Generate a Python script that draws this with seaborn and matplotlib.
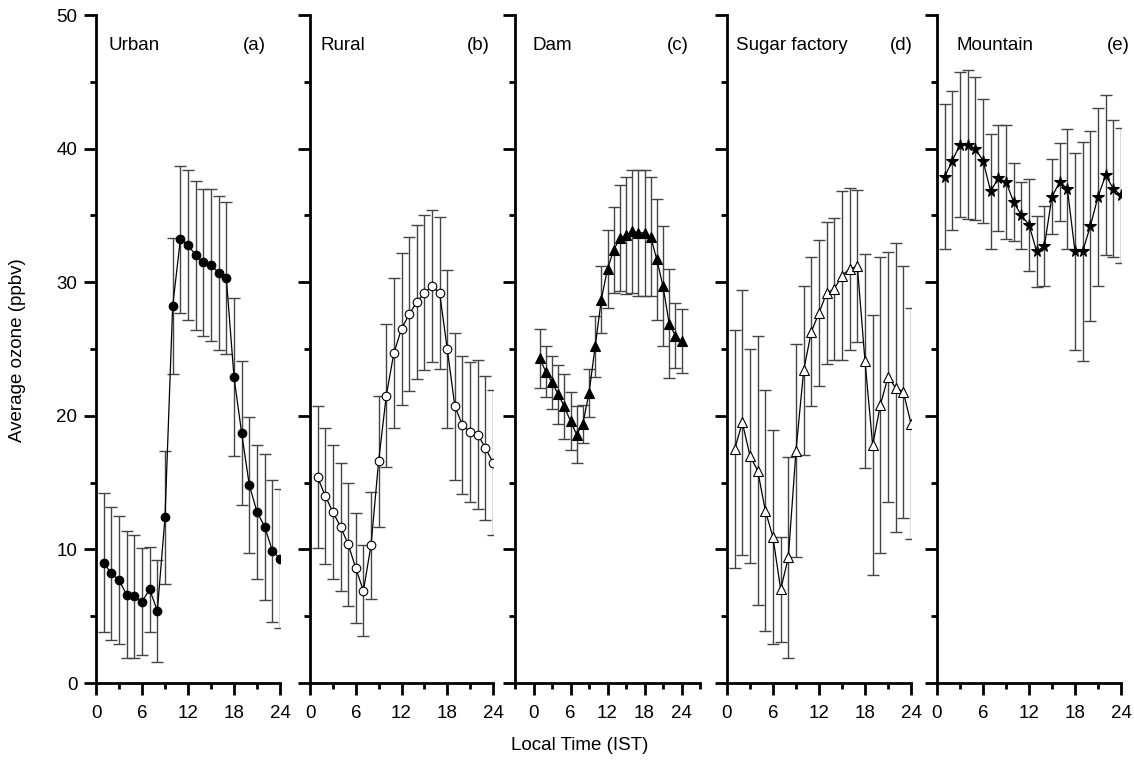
import numpy as np
import pandas as pd
import matplotlib
matplotlib.use("Agg")
import matplotlib.pyplot as plt
from matplotlib.ticker import MultipleLocator, FixedLocator
import seaborn as sns

sns.set_theme(style="ticks")
plt.rcParams['font.family'] = ['Liberation Sans', 'DejaVu Sans']

hours = list(range(1, 25))

site_names = ["Urban", "Rural", "Dam", "Sugar factory", "Mountain"]
panel_tags = ["(a)", "(b)", "(c)", "(d)", "(e)"]

urban_mean = [9.0, 8.2, 7.7, 6.6, 6.5, 6.1, 7.0, 5.4, 12.4, 28.2, 33.2, 32.8,
              32.0, 31.5, 31.3, 30.7, 30.3, 22.9, 18.7, 14.8, 12.8, 11.7, 9.9, 9.3]
urban_sd = [5.2, 5.0, 4.8, 4.75, 4.6, 4.0, 3.2, 3.8, 5.0, 5.1, 5.5, 5.6,
            5.6, 5.5, 5.7, 5.75, 5.7, 5.9, 5.4, 5.1, 5.05, 5.45, 5.3, 5.2]

rural_mean = [15.4, 14.0, 12.8, 11.7, 10.4, 8.6, 6.9, 10.3, 16.6, 21.5, 24.7, 26.5,
              27.6, 28.5, 29.2, 29.7, 29.2, 25.0, 20.7, 19.3, 18.8, 18.6, 17.6, 16.5]
rural_sd = [5.3, 5.1, 5.0, 4.8, 4.6, 4.1, 3.4, 4.0, 4.9, 5.35, 5.65, 5.7,
            5.75, 5.75, 5.8, 5.7, 5.7, 5.9, 5.5, 5.15, 5.25, 5.55, 5.4, 5.4]

dam_mean = [24.3, 23.3, 22.5, 21.6, 20.7, 19.6, 18.6, 19.4, 21.7, 25.2, 28.7, 31.0,
            32.4, 33.3, 33.5, 33.8, 33.7, 33.7, 33.4, 31.7, 29.7, 26.9, 26.0, 25.6]
dam_sd = [2.2, 1.9, 2.0, 2.2, 2.4, 2.15, 2.1, 1.4, 1.8, 2.3, 2.5, 2.9,
          3.2, 3.95, 4.35, 4.6, 4.7, 4.7, 4.45, 4.5, 4.5, 4.1, 2.45, 2.4]

sugar_mean = [17.5, 19.5, 17.0, 15.9, 12.9, 10.9, 7.0, 9.4, 17.4, 23.4, 26.3, 27.7,
              29.2, 29.5, 30.5, 31.0, 31.2, 24.1, 17.8, 20.8, 22.9, 22.1, 21.8, 19.4]
sugar_sd = [8.9, 9.9, 8.0, 10.05, 9.0, 8.0, 3.95, 7.5, 8.0, 6.3, 5.55, 5.45,
            5.3, 5.3, 6.3, 6.05, 5.7, 8.0, 9.75, 11.05, 9.35, 10.8, 9.45, 8.65]

mountain_mean = [37.9, 39.1, 40.3, 40.3, 40.0, 39.1, 36.8, 37.8, 37.5, 36.0, 35.0, 34.3,
                 32.3, 32.7, 36.4, 37.5, 37.0, 32.3, 32.3, 34.2, 36.4, 38.0, 37.0, 36.5]
mountain_sd = [5.45, 5.2, 5.45, 5.55, 5.35, 4.65, 4.3, 4.0, 4.25, 2.95, 2.5, 3.45,
               2.65, 3.0, 2.8, 2.95, 4.5, 7.35, 8.2, 7.1, 6.65, 6.0, 5.15, 5.05]

means = [urban_mean, rural_mean, dam_mean, sugar_mean, mountain_mean]
sds = [urban_sd, rural_sd, dam_sd, sugar_sd, mountain_sd]

x_major = [0, 6, 12, 18, 24]
y_major = [0, 10, 20, 30, 40, 50]

# styles
markers = ["o", "o", "^", "^", "*"]
faces = ["black", "white", "black", "white", "black"]
msizes = [6.2, 6.2, 6.8, 6.8, 8.5]

W, H = 1134, 763
fig = plt.figure(figsize=(W / 100, H / 100), dpi=100)

lefts = [96, 310, 515, 727, 937]
widths = [184, 183, 185, 184, 184]
top_px, bot_px = 15, 683
xlims = [(0, 24), (0, 24), (-3, 27), (0, 24), (0, 24)]
name_x = [12, 11, 17, 9, 20]      # px offset of site label from left spine
tag_x = [170, 180, 174, 186, 193]  # px offset of right edge of tag

for i in range(5):
    ax = fig.add_axes([lefts[i] / W, 1 - bot_px / H, widths[i] / W, (bot_px - top_px) / H])
    df = pd.DataFrame({"hour": hours, "ozone": means[i], "sd": sds[i]})
    ax.errorbar(df["hour"], df["ozone"], yerr=df["sd"], fmt="none",
                ecolor="#444444", elinewidth=1.0, capsize=4.5, capthick=1.0, zorder=2)
    sns.lineplot(data=df, x="hour", y="ozone", ax=ax, color="black", linewidth=0.9,
                 marker=markers[i], markersize=msizes[i], markerfacecolor=faces[i],
                 markeredgecolor="black", markeredgewidth=0.8, zorder=3)
    ax.set_xlim(*xlims[i])
    ax.set_ylim(0, 50)
    ax.xaxis.set_major_locator(FixedLocator(x_major))
    ax.xaxis.set_minor_locator(MultipleLocator(3))
    ax.yaxis.set_major_locator(FixedLocator(y_major))
    ax.yaxis.set_minor_locator(MultipleLocator(5))
    ax.set_xticklabels([str(v) for v in x_major])
    if i == 0:
        ax.set_yticklabels([str(v) for v in y_major])
    else:
        ax.set_yticklabels([])
    ax.set_xlabel("")
    ax.set_ylabel("")
    for s in ["top", "right"]:
        ax.spines[s].set_visible(False)
    for s in ["left", "bottom"]:
        ax.spines[s].set_linewidth(2)
        ax.spines[s].set_color("black")
    ax.tick_params(axis="both", which="major", direction="out", length=8.5, width=2,
                   colors="black", labelsize=13.5, pad=5)
    ax.tick_params(axis="both", which="minor", direction="out", length=4.5, width=2,
                   colors="black")
    ax.tick_params(axis="x", which="major", pad=7)
    ax.patch.set_alpha(0)
    ax.text(name_x[i] / widths[i], 0.955, site_names[i], transform=ax.transAxes,
            ha="left", va="center", fontsize=13.5, color="black")
    ax.text(tag_x[i] / widths[i], 0.955, panel_tags[i], transform=ax.transAxes,
            ha="right", va="center", fontsize=13.5, color="black")

fig.text(18 / W, 1 - 350 / H, "Average ozone (ppbv)", rotation=90, ha="center",
         va="center", fontsize=13.5, color="black")
fig.text(580 / W, 1 - 745 / H, "Local Time (IST)", ha="center", va="center",
         fontsize=13.5, color="black")

fig.savefig("out.png", dpi=100, facecolor="white")
